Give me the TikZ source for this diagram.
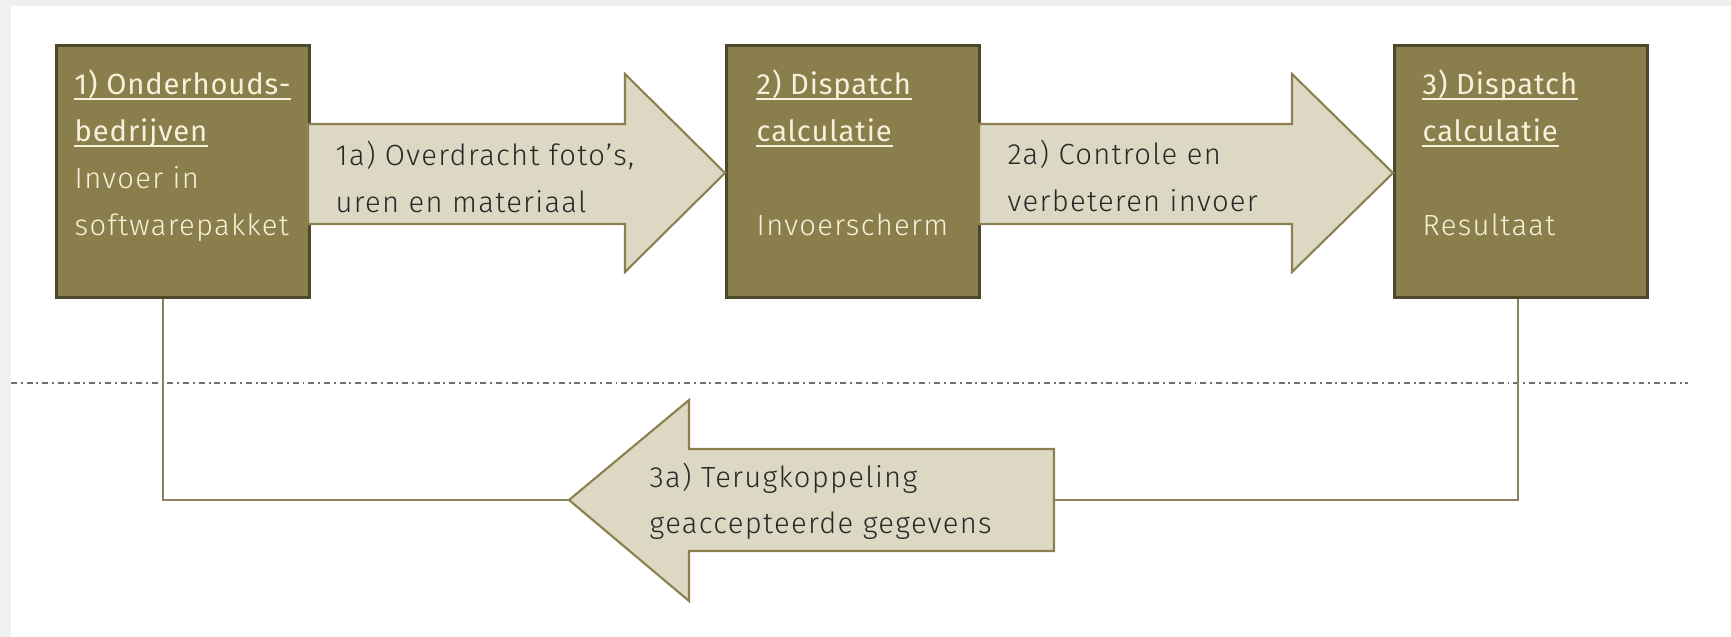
\documentclass[tikz,border=0pt]{standalone}
\usepackage{fontspec}
\newfontfamily\din{Fira Sans Light}[LetterSpace=4.5]
\newfontfamily\dinhead{Fira Sans}[LetterSpace=3]
\definecolor{boxfill}{RGB}{138,126,76}
\definecolor{boxline}{RGB}{78,72,42}
\definecolor{boxtext}{RGB}{246,241,218}
\definecolor{arrfill}{RGB}{221,216,196}
\definecolor{arrline}{RGB}{140,128,80}
\definecolor{arrtext}{RGB}{40,40,40}
\definecolor{connline}{RGB}{140,130,95}
\definecolor{margin}{RGB}{240,240,240}
\definecolor{sepline}{RGB}{110,110,110}
\begin{document}
\begin{tikzpicture}[x=0.01cm,y=-0.01cm,
  stagebox/.style={rectangle, draw=boxline, fill=boxfill, line width=0.85pt,
    minimum width=2.53cm, minimum height=2.52cm, anchor=north west, inner sep=0pt},
  boxlbl/.style={anchor=base west, inner sep=0pt, text=boxtext, font=\din\fontsize{8.3}{10}\selectfont},
  boxhead/.style={anchor=base west, inner sep=0pt, text=boxtext, font=\dinhead\fontsize{8.3}{10}\selectfont},
  arrlbl/.style={anchor=base west, inner sep=0pt, text=arrtext, font=\din\fontsize{8.3}{10}\selectfont},
  flowarrow/.style={draw=arrline, fill=arrfill, line width=0.6pt, line join=miter},
  conn/.style={draw=connline, line width=0.75pt},
  uline/.style={draw=boxtext, line width=0.55pt},
  sep/.style={draw=sepline, line width=0.45pt, dash pattern=on 1.7pt off 1.1pt on 0.55pt off 1.1pt}
]
\useasboundingbox (0,0) rectangle (1731,637);
\fill[white] (0,0) rectangle (1731,637);
\fill[margin] (0,0) rectangle (1731,6);
\fill[margin] (0,0) rectangle (11,637);

% separator
\coordinate (sepL) at (11,383);
\coordinate (sepR) at (1688,383);
\draw[sep] (sepL) -- (sepR);

% stage boxes
\node[stagebox] (b1) at (55,44) {};
\node[stagebox] (b2) at (725,44) {};
\node[stagebox] (b3) at (1393,44) {};

% forward arrows
\coordinate (a1tip) at (725,173);
\coordinate (a2tip) at (1393,173);
\path[flowarrow] (308,124) -- (625,124) -- (625,74) -- (a1tip) -- (625,272) -- (625,224) -- (308,224) -- cycle;
\path[flowarrow] (979,124) -- (1292,124) -- (1292,74) -- (a2tip) -- (1292,272) -- (1292,224) -- (979,224) -- cycle;

% feedback arrow
\coordinate (a3tip) at (569,500);
\coordinate (a3tail) at (1054,500);
\path[flowarrow] (1054,449) -- (689,449) -- (689,400) -- (a3tip) -- (689,601) -- (689,551) -- (1054,551) -- cycle;

% connectors
\draw[conn] (b1.south west) ++(108,0) |- (a3tip);
\draw[conn] (b3.south west) ++(125,0) |- (a3tail);

% box 1 text
\node[boxhead] (t1a) at (74,95) {1) Onderhouds-};
\node[boxhead] (t1b) at (74,142) {bedrijven};
\node[boxlbl] (t1c) at (74,189) {Invoer in};
\node[boxlbl] (t1d) at (74,236) {softwarepakket};
\draw[uline] ([yshift=-0.04cm]t1a.base west) -- ([yshift=-0.04cm]t1a.base east);
\draw[uline] ([yshift=-0.04cm]t1b.base west) -- ([yshift=-0.04cm]t1b.base east);

% box 2 text
\node[boxhead] (t2a) at (756,95) {2) Dispatch};
\node[boxhead] (t2b) at (756,142) {calculatie};
\node[boxlbl] (t2c) at (756,236) {Invoerscherm};
\draw[uline] ([yshift=-0.04cm]t2a.base west) -- ([yshift=-0.04cm]t2a.base east);
\draw[uline] ([yshift=-0.04cm]t2b.base west) -- ([yshift=-0.04cm]t2b.base east);

% box 3 text
\node[boxhead] (t3a) at (1422,95) {3) Dispatch};
\node[boxhead] (t3b) at (1422,142) {calculatie};
\node[boxlbl] (t3c) at (1422,236) {Resultaat};
\draw[uline] ([yshift=-0.04cm]t3a.base west) -- ([yshift=-0.04cm]t3a.base east);
\draw[uline] ([yshift=-0.04cm]t3b.base west) -- ([yshift=-0.04cm]t3b.base east);

% arrow labels
\node[arrlbl] (l1a) at (335,166) {1a) Overdracht foto’s,};
\node[arrlbl] (l1b) at (335,213) {uren en materiaal};
\node[arrlbl] (l2a) at (1007,165) {2a) Controle en};
\node[arrlbl] (l2b) at (1007,212) {verbeteren invoer};
\node[arrlbl] (l3a) at (649,487) {3a) Terugkoppeling};
\node[arrlbl] (l3b) at (649,533) {geaccepteerde gegevens};
\end{tikzpicture}
\end{document}
